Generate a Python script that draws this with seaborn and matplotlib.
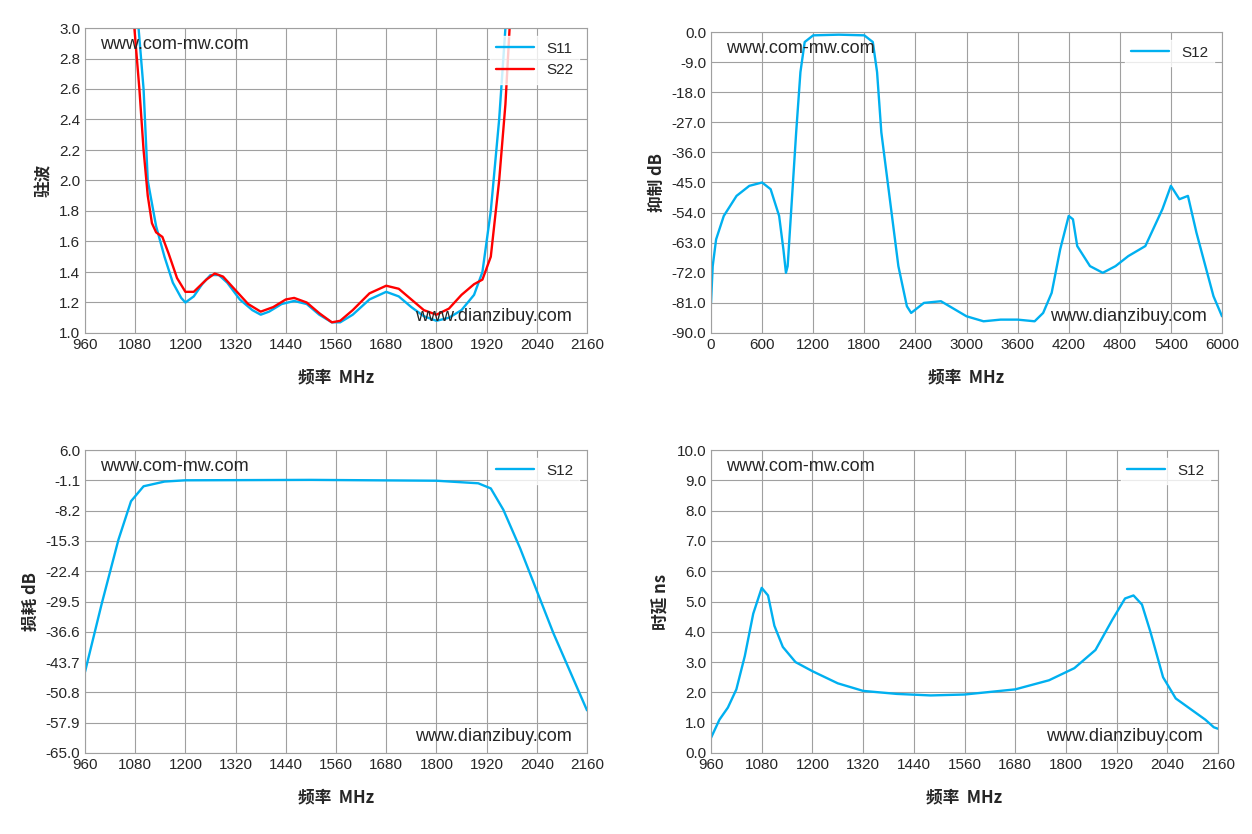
import numpy as np
import pandas as pd
import seaborn as sns
import matplotlib.pyplot as plt

sns.set_style("white")
plt.rcParams['font.family'] = ['Liberation Sans', 'Noto Sans CJK SC', 'DejaVu Sans']

# 驻波
s11 = [(1088, 3.0), (1100, 2.6), (1110, 2.0), (1130, 1.7), (1150, 1.5), (1170, 1.33), (1190, 1.23), (1200, 1.20),
       (1220, 1.24), (1240, 1.32), (1260, 1.38), (1280, 1.38), (1300, 1.33), (1330, 1.22), (1360, 1.15), (1380, 1.12),
       (1400, 1.14), (1430, 1.19), (1460, 1.21), (1490, 1.19), (1520, 1.12), (1550, 1.07), (1570, 1.07), (1600, 1.12),
       (1640, 1.22), (1680, 1.27), (1710, 1.24), (1740, 1.17), (1770, 1.11), (1800, 1.08), (1830, 1.10), (1860, 1.15),
       (1890, 1.25), (1910, 1.4), (1930, 1.8), (1950, 2.4), (1965, 3.0)]
s22 = [(1078, 3.0), (1090, 2.6), (1100, 2.2), (1110, 1.9), (1120, 1.72), (1130, 1.66), (1145, 1.63), (1160, 1.52),
       (1180, 1.36), (1200, 1.27), (1220, 1.27), (1250, 1.35), (1270, 1.39), (1290, 1.37), (1320, 1.28), (1350, 1.19),
       (1380, 1.14), (1410, 1.17), (1440, 1.22), (1460, 1.23), (1490, 1.20), (1520, 1.13), (1550, 1.07), (1570, 1.08),
       (1600, 1.15), (1640, 1.26), (1680, 1.31), (1710, 1.29), (1740, 1.22), (1770, 1.15), (1800, 1.12), (1830, 1.16),
       (1860, 1.25), (1890, 1.32), (1910, 1.35), (1930, 1.5), (1950, 2.0), (1965, 2.5), (1975, 3.0)]
# 抑制
rej = [(0, -81), (20, -70), (60, -62), (150, -55), (300, -49), (450, -46), (600, -45), (700, -47), (800, -55),
       (850, -65), (880, -72), (900, -70), (950, -50), (1000, -30), (1050, -12), (1100, -3), (1200, -1), (1500, -0.8),
       (1800, -1), (1900, -3), (1950, -12), (2000, -30), (2100, -50), (2200, -70), (2300, -82), (2350, -84),
       (2400, -83), (2500, -81), (2700, -80.5), (2800, -82), (3000, -85), (3200, -86.5), (3400, -86), (3600, -86),
       (3800, -86.5), (3900, -84), (4000, -78), (4100, -65), (4200, -55), (4250, -56), (4300, -64), (4450, -70),
       (4600, -72), (4750, -70), (4900, -67), (5100, -64), (5300, -53), (5400, -46), (5500, -50), (5600, -49),
       (5700, -60), (5900, -79), (6000, -85)]
# 损耗
loss = [(960, -46), (1000, -30), (1040, -15), (1070, -6), (1100, -2.5), (1150, -1.4), (1200, -1.1), (1500, -1.0),
        (1800, -1.2), (1900, -1.8), (1930, -3), (1960, -8), (2000, -17), (2040, -27), (2080, -37), (2120, -46),
        (2160, -55)]
# 时延
delay = [(960, 0.5), (980, 1.1), (1000, 1.5), (1020, 2.1), (1040, 3.2), (1060, 4.6), (1080, 5.45), (1095, 5.2),
         (1110, 4.2), (1130, 3.5), (1160, 3.0), (1200, 2.7), (1260, 2.3), (1320, 2.05), (1400, 1.95), (1480, 1.9),
         (1560, 1.93), (1680, 2.1), (1760, 2.4), (1820, 2.8), (1870, 3.4), (1910, 4.4), (1940, 5.1), (1960, 5.2),
         (1980, 4.9), (2000, 4.0), (2030, 2.5), (2060, 1.8), (2100, 1.4), (2130, 1.1), (2150, 0.85), (2160, 0.8)]

def df(pts):
    return pd.DataFrame(pts, columns=['f', 'v'])

blue = '#00b0f0'
xfreq = np.arange(960, 2161, 120)

fig, axs = plt.subplots(2, 2, figsize=(12.52, 8.34), dpi=100)
W, H = 1252, 834
boxes = {(0, 0): (85, 28, 587, 333), (0, 1): (711, 32, 1222, 333),
         (1, 0): (85, 450, 587, 753), (1, 1): (711, 450, 1218, 753)}
for k, (x0, y0, x1, y1) in boxes.items():
    axs[k].set_position([x0 / W, 1 - y1 / H, (x1 - x0) / W, (y1 - y0) / H])

def style(ax, xt, yt, yfmt, ylabel):
    ax.set_xticks(xt)
    ax.set_yticks(yt)
    ax.set_xlim(xt[0], xt[-1])
    ax.set_ylim(min(yt), max(yt))
    ax.set_yticklabels([yfmt.format(v) for v in yt])
    ax.grid(True, color='#a0a0a0', lw=0.8)
    for s in ax.spines.values():
        s.set_color('#a0a0a0')
    ax.tick_params(labelsize=11, length=0)
    ax.set_xlabel('频率  MHz', fontsize=12, fontweight='bold', labelpad=12,
                  family=['Noto Sans CJK SC', 'DejaVu Sans'])
    ax.set_ylabel(ylabel, fontsize=12, fontweight='bold', family=['Noto Sans CJK SC', 'DejaVu Sans'])
    ax.text(0.03, 0.93, 'www.com-mw.com', transform=ax.transAxes, fontsize=13)
    ax.text(0.97, 0.04, 'www.dianzibuy.com', transform=ax.transAxes, fontsize=13, ha='right')
    leg = ax.legend(loc='upper right', fontsize=11, frameon=True, fancybox=False, handlelength=2.5)
    leg.get_frame().set_edgecolor('white')

ax = axs[0, 0]
sns.lineplot(data=df(s11), x='f', y='v', ax=ax, color=blue, lw=1.7, label='S11')
sns.lineplot(data=df(s22), x='f', y='v', ax=ax, color='red', lw=1.7, label='S22')
style(ax, xfreq, np.round(np.arange(1.0, 3.01, 0.2), 1), '{:.1f}', '驻波')

ax = axs[0, 1]
sns.lineplot(data=df(rej), x='f', y='v', ax=ax, color=blue, lw=1.7, label='S12')
style(ax, np.arange(0, 6001, 600), np.arange(0, -90.1, -9), '{:.1f}', '抑制 dB')

ax = axs[1, 0]
sns.lineplot(data=df(loss), x='f', y='v', ax=ax, color=blue, lw=1.7, label='S12')
style(ax, xfreq, np.round(np.arange(6.0, -65.1, -7.1), 1), '{:.1f}', '损耗 dB')

ax = axs[1, 1]
sns.lineplot(data=df(delay), x='f', y='v', ax=ax, color=blue, lw=1.7, label='S12')
style(ax, xfreq, np.arange(0, 10.1, 1.0), '{:.1f}', '时延 ns')

plt.savefig('out.png')
